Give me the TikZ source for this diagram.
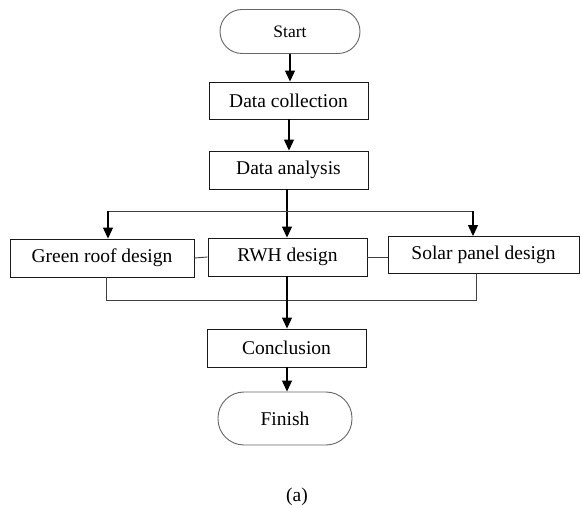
\documentclass[tikz,border=0pt]{standalone}
\usepackage{fontspec}
\setmainfont{Liberation Serif}
\usetikzlibrary{arrows.meta,positioning}
\begin{document}
\begin{tikzpicture}[x=1pt,y=-1pt,
  box/.style={draw=black!90, line width=0.9pt, minimum height=38pt, inner sep=0pt,
    font=\fontsize{19.5}{22}\selectfont},
  term/.style={draw=black!60, line width=0.9pt, inner sep=0pt},
  conn/.style={draw=black!75, line width=0.9pt},
  arr/.style={draw=black, line width=1.1pt, -{Triangle[width=10pt,length=11pt]}}
]
\useasboundingbox[fill=white] (0,0) rectangle (582,508);
\node[term, minimum width=140pt, minimum height=44pt, rounded corners=22pt,
  font=\fontsize{17.5}{20}\selectfont] (start) at (290,31.5) {Start};
\node[box, minimum width=159pt, minimum height=37pt] (dc) at (288.5,100.5) {Data collection};
\node[box, minimum width=159pt] (da) at (288.5,170) {Data analysis};
\node[box, minimum width=184pt] (green) at (102,258) {Green roof design};
\node[box, minimum width=159pt] (rwh) at (287.5,257) {RWH design};
\node[box, minimum width=191pt, minimum height=37pt] (solar) at (483.5,255) {Solar panel design};
\node[box, minimum width=159pt] (conc) at (286.5,348) {Conclusion};
\node[term, minimum width=134pt, minimum height=53pt, rounded corners=26pt,
  font=\fontsize{19.5}{22}\selectfont] (finish) at (285,418.5) {Finish};
\node[font=\fontsize{19.5}{22}\selectfont] (cap) at (297,497) {(a)};

\coordinate (bl) at (108,211);
\coordinate (br) at (473,211);
\coordinate (dl) at (106,300);
\coordinate (dr) at (476,300);

\draw[arr] (start.south -| 290,0) -- (dc.north -| 290,0);
\draw[arr] (dc.south -| 289,0) -- (da.north -| 289,0);
\draw[arr] (da.south -| 287,0) -- (rwh.north -| 287,0);
\draw[conn] (bl) -- (br);
\draw[arr] (bl) -- (bl |- green.north);
\draw[arr] (br) -- (br |- solar.north);
\draw[conn] (green.east) -- (rwh.west);
\draw[conn] (rwh.east) -- (rwh.east -| solar.west);
\draw[conn] (dl |- green.south) -- (dl) -- (dr) -- (dr |- solar.south);
\draw[arr] (rwh.south -| 287,0) -- (conc.north -| 287,0);
\draw[arr] (conc.south -| 287,0) -- (finish.north -| 287,0);
\end{tikzpicture}
\end{document}
